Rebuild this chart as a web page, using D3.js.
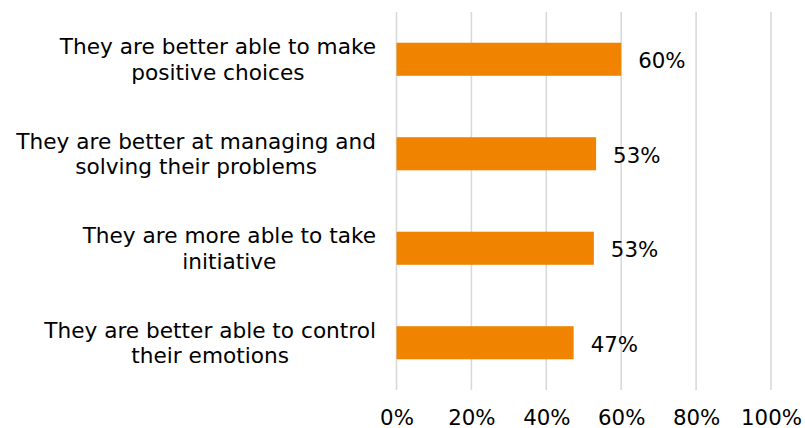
<!DOCTYPE html>
<html>
<head>
<meta charset="utf-8">
<script src="https://cdn.jsdelivr.net/npm/d3@7"></script>
<style>
  html, body { margin: 0; padding: 0; background: #fff; }
  svg { display: block; }
  text { font-family: "DejaVu Sans", Verdana, sans-serif; fill: #000; }
</style>
</head>
<body>
<svg id="chart" width="805" height="428"></svg>
<script>
// Survey statements (two-line labels) and share of respondents agreeing
const categories = [
  ["They are better able to make", "positive choices"],
  ["They are better at managing and", "solving their problems"],
  ["They are more able to take", "initiative"],
  ["They are better able to control", "their emotions"]
];
const values = [0.60, 0.533, 0.527, 0.473];
const tickValues = [0, 0.2, 0.4, 0.6, 0.8, 1.0];

const width = 805, height = 428;
const margin = { top: 12, right: 34, bottom: 38, left: 396.5 };
const fontSize = "21.3px";
const catFontSize = "21.65px";

const svg = d3.select("#chart");

const x = d3.scaleLinear()
  .domain([0, 1])
  .range([margin.left, width - margin.right]);

const y = d3.scaleBand()
  .domain(d3.range(categories.length))
  .range([margin.top, height - margin.bottom])
  .paddingInner(0.65)
  .paddingOuter(0.325);

const pct = d3.format(".0%");

// Vertical gridlines
svg.append("g")
  .selectAll("line")
  .data(tickValues)
  .join("line")
  .attr("x1", d => x(d))
  .attr("x2", d => x(d))
  .attr("y1", margin.top)
  .attr("y2", height - margin.bottom)
  .attr("stroke", "#d9d9d9")
  .attr("stroke-width", 1.6);

// Bottom axis tick labels
const xAxis = d3.axisBottom(x)
  .tickValues(tickValues)
  .tickFormat(pct)
  .tickSize(0)
  .tickPadding(0);

const axisG = svg.append("g")
  .attr("transform", `translate(0,${height - margin.bottom})`)
  .call(xAxis);
axisG.select(".domain").remove();
axisG.selectAll("text")
  .attr("y", 34.5)
  .attr("dy", null)
  .style("font-family", '"DejaVu Sans", Verdana, sans-serif')
  .style("font-size", fontSize)
  .attr("fill", "#000");

// Bars
svg.append("g")
  .selectAll("rect")
  .data(values)
  .join("rect")
  .attr("x", x(0))
  .attr("y", (d, i) => y(i))
  .attr("width", d => x(d) - x(0))
  .attr("height", y.bandwidth())
  .attr("fill", "#f08400");

// Value labels
svg.append("g")
  .selectAll("text")
  .data(values)
  .join("text")
  .attr("x", d => x(d) + 17)
  .attr("y", (d, i) => y(i) + y.bandwidth() / 2 + 9)
  .style("font-size", fontSize)
  .text(d => pct(d));

// Category labels, each line centred, block ending just left of the axis
const catG = svg.append("g");
categories.forEach((lines, i) => {
  const cy = y(i) + y.bandwidth() / 2;
  const lineH = 25.5;
  const t = catG.append("text")
    .attr("text-anchor", "middle")
    .style("font-size", catFontSize);
  lines.forEach((ln, j) => {
    t.append("tspan")
      .attr("y", cy - lineH / 2 + j * lineH + 7.5)
      .text(ln);
  });
});
catG.selectAll("text").each(function() {
  const spans = d3.select(this).selectAll("tspan").nodes();
  const maxW = d3.max(spans, s => s.getComputedTextLength());
  const cx = x(0) - 20.5 - maxW / 2;
  spans.forEach(s => d3.select(s).attr("x", cx));
});
</script>
</body>
</html>
